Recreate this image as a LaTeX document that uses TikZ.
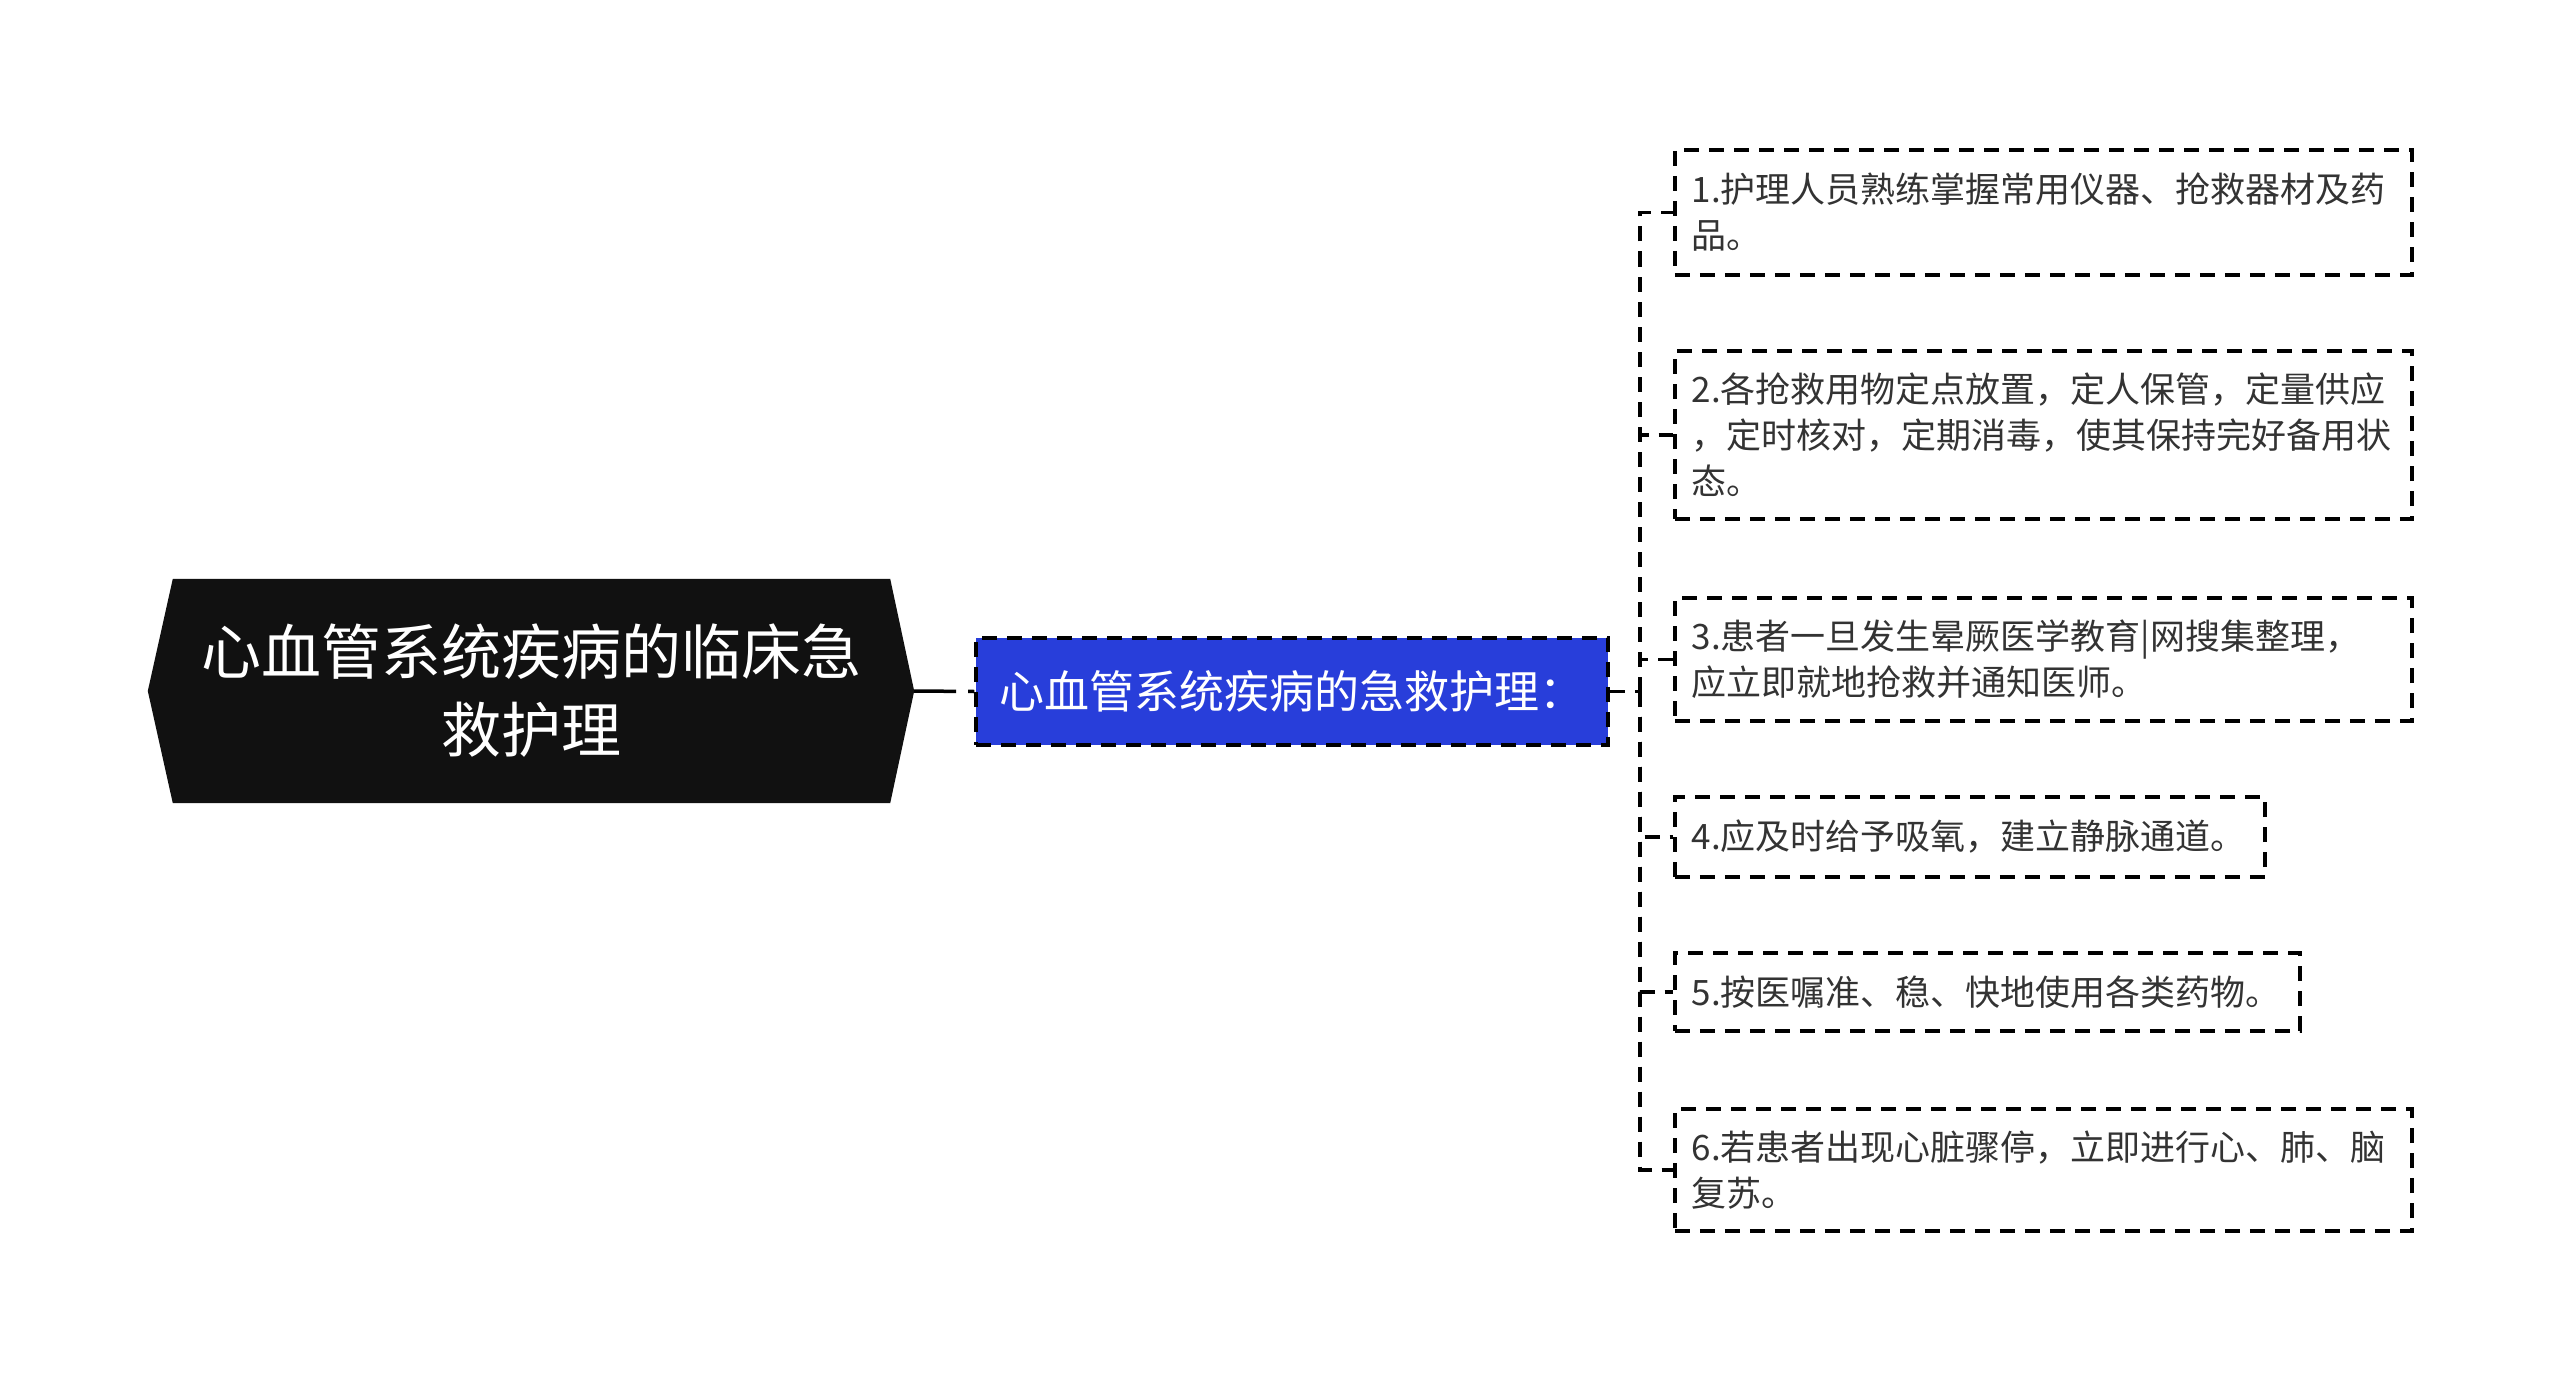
\documentclass[tikz,border=0pt]{standalone}
\usepackage{fontspec}
\setmainfont{Noto Sans CJK SC}
\usetikzlibrary{backgrounds}

\definecolor{rootfill}{RGB}{17,17,17}
\definecolor{subfill}{RGB}{40,62,218}
\definecolor{leaftext}{RGB}{51,51,51}

\begin{document}
\begin{tikzpicture}[x=1pt, y=-1pt,
    link/.style={draw=black, line width=3.5pt, dash pattern=on 15pt off 10pt},
    rootbox/.style={text=white, minimum width=717pt, minimum height=224pt,
      align=center, font=\fontsize{60}{78}\selectfont},
    subbox/.style={link, fill=subfill, text=white, minimum width=632pt,
      minimum height=107pt, font=\fontsize{45}{54}\selectfont},
    leaf/.style={link, anchor=west, text=leaftext, align=left, inner xsep=17pt,
      text width=703pt, font=\fontsize{35}{46}\selectfont}]
  \useasboundingbox (0,0) rectangle (2560,1383);

  % Root topic
  \node[rootbox] (root) at (531.5,691) {心血管系统疾病的临床急\\救护理};
  \coordinate (roottip) at ([xshift=24pt]root.east);
  \begin{scope}[on background layer]
    \fill[rootfill] (root.north west) -- (root.north east) -- (roottip)
      -- (root.south east) -- (root.south west) -- ([xshift=-25pt]root.west) -- cycle;
  \end{scope}

  % Sub topic
  \node[subbox] (sub) at (1292,691.5) {心血管系统疾病的急救护理：};
  \draw[link, dash pattern=on 42pt off 12pt] (roottip) -- (sub.west);

  % Items
  \node[leaf, minimum height=125pt] (item1) at (1673,212.5)
    {1.护理人员熟练掌握常用仪器、抢救器材及药\\品。};
  \node[leaf, minimum height=168pt] (item2) at (1673,435)
    {2.各抢救用物定点放置，定人保管，定量供应\\，定时核对，定期消毒，使其保持完好备用状\\态。};
  \node[leaf, minimum height=123pt] (item3) at (1673,659.5)
    {3.患者一旦发生晕厥医学教育|网搜集整理，\\应立即就地抢救并通知医师。};
  \node[leaf, minimum height=80pt, text width=556pt] (item4) at (1673,837)
    {4.应及时给予吸氧，建立静脉通道。};
  \node[leaf, minimum height=78pt, text width=591pt] (item5) at (1673,992)
    {5.按医嘱准、稳、快地使用各类药物。};
  \node[leaf, minimum height=122pt] (item6) at (1673,1170)
    {6.若患者出现心脏骤停，立即进行心、肺、脑\\复苏。};

  % Connectors
  \coordinate (trunk) at (1640,691.5);
  \draw[link] (sub.east) -- (trunk);
  \foreach \i in {1,...,6}
    \draw[link] (trunk) |- (item\i.west);
\end{tikzpicture}
\end{document}
